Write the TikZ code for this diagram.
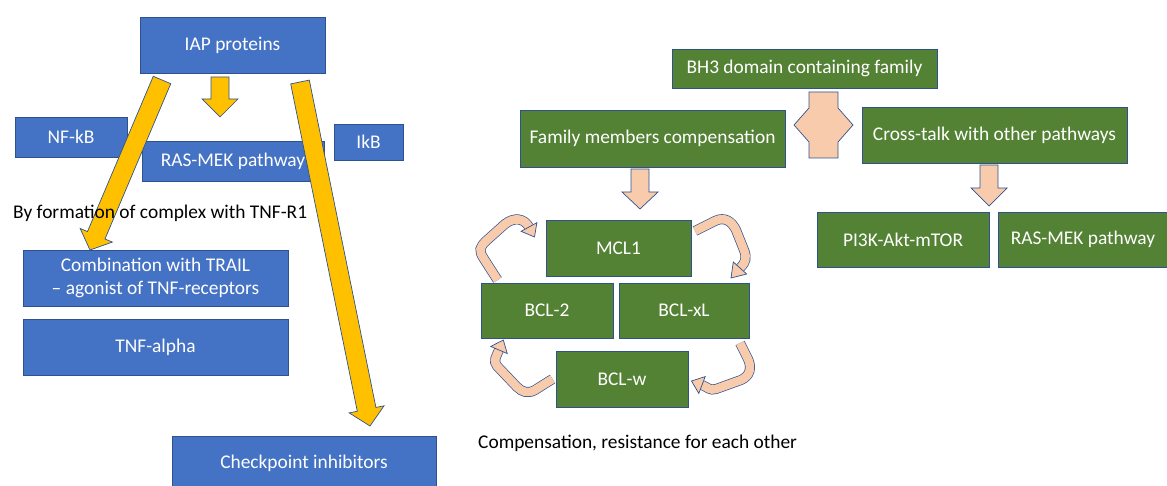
\documentclass[tikz,border=0pt]{standalone}
\usepackage{fontspec}
\setmainfont{Carlito}
\usetikzlibrary{calc}
\definecolor{bfill}{HTML}{4472C4}
\definecolor{edge}{HTML}{2F528F}
\definecolor{gfill}{HTML}{548235}
\definecolor{yfill}{HTML}{FFC000}
\definecolor{pfill}{HTML}{F8CBAD}
\newcommand\blockarr[6]{%
  \coordinate (ba-h) at ($(#3)!#6!(#2)$);
  \filldraw[#1] ($(#2)!#4!90:(#3)$) -- ($(ba-h)!#4!90:(#3)$) -- ($(ba-h)!#5!90:(#3)$) -- (#3)
    -- ($(ba-h)!#5!-90:(#3)$) -- ($(ba-h)!#4!-90:(#3)$) -- ($(#2)!#4!-90:(#3)$) -- cycle;}
\newcommand\headtri[4]{%
  \filldraw[#1] ($(#2)!#4!90:(#3)$) -- (#3) -- ($(#2)!#4!-90:(#3)$) -- cycle;}
\tikzset{
  txt/.style={font=\fontsize{19.4}{23.3}\selectfont},
  bbox/.style={txt, draw=edge, fill=bfill, text=white, line width=0.8pt, inner sep=0pt, align=center},
  gbox/.style={bbox, fill=gfill},
  lbl/.style={txt, text=black, inner sep=0pt, anchor=west},
  yarr/.style={fill=yfill, draw=edge, line width=0.7pt, line join=miter},
  parr/.style={fill=pfill, draw=edge, line width=0.7pt, line join=miter},
  band/.style={draw=edge, double=pfill, double distance=8.6pt, line width=0.7pt},
}
\begin{document}
\begin{tikzpicture}[x=1pt, y=-1pt]
\useasboundingbox (0,0) rectangle (1167,486);
% blue boxes
\node[bbox, minimum width=185pt, minimum height=56pt] (iap) at (232.5,45) {IAP proteins};
\node[bbox, minimum width=112pt, minimum height=40pt] (nfkb) at (71,137) {NF-kB};
\node[bbox, minimum width=182pt, minimum height=40pt] (rasb) at (233,161) {RAS-MEK pathway};
\node[bbox, minimum width=69pt, minimum height=36pt] (ikb) at (368.5,142) {IkB};
\node[bbox, minimum width=265pt, minimum height=56pt] (trail) at (155.5,278) {Combination with TRAIL\\ – agonist of TNF-receptors};
\node[bbox, minimum width=265pt, minimum height=56pt] (tnf) at (155.5,347) {TNF-alpha};
\node[bbox, minimum width=264pt, minimum height=54pt] (check) at (304,463) {Checkpoint inhibitors};
% green boxes
\node[gbox, minimum width=265pt, minimum height=39pt] (bh3) at (804.5,68.5) {BH3 domain containing family};
\node[gbox, minimum width=265pt, minimum height=57pt] (fam) at (652.5,138.5) {Family members compensation};
\node[gbox, minimum width=265pt, minimum height=56pt] (cross) at (994.5,135) {Cross-talk with other pathways};
\node[gbox, minimum width=145pt, minimum height=56pt] (mcl) at (618.5,248) {MCL1};
\node[gbox, minimum width=132pt, minimum height=55pt] (bcl2) at (547,310.5) {BCL-2};
\node[gbox, minimum width=130pt, minimum height=55pt] (bclx) at (684,310.5) {BCL-xL};
\node[gbox, minimum width=132pt, minimum height=56pt] (bclw) at (622,379) {BCL-w};
\node[gbox, minimum width=172pt, minimum height=55pt] (pi3k) at (903,239.5) {PI3K-Akt-mTOR};
\node[gbox, minimum width=170pt, minimum height=55pt] (rasg) at (1083,239.5) {RAS-MEK pathway};
% yellow block arrows
\coordinate (ya1s) at (162,80);  \coordinate (ya1e) at (90,250);
\coordinate (ya2s) at (220,77);  \coordinate (ya2e) at (220,117);
\coordinate (ya3s) at (300,82);  \coordinate (ya3e) at (370,426);
\blockarr{yarr}{ya1s}{ya1e}{9.5pt}{17.5pt}{16pt}
\blockarr{yarr}{ya2s}{ya2e}{9pt}{18pt}{18pt}
\blockarr{yarr}{ya3s}{ya3e}{9.5pt}{17.8pt}{17pt}
% peach block arrows
\coordinate (pa1s) at (640,169); \coordinate (pa1e) at (640,209);
\coordinate (pa2s) at (989,165); \coordinate (pa2e) at (989,206);
\blockarr{parr}{pa1s}{pa1e}{9pt}{18pt}{17pt}
\blockarr{parr}{pa2s}{pa2e}{9pt}{18pt}{18pt}
% left-right arrow between family and cross-talk
\filldraw[parr] (809,92) -- (838,92) -- (838,108) -- (853,125) -- (838,142) -- (838,158)
  -- (809,158) -- (809,142) -- (794,125) -- (809,108) -- cycle;
% curved arrows
\draw[band] (497.5,280) -- (484,259) .. controls (478,250) and (480,247) .. (486,241) -- (505,224) .. controls (514,217) and (524,218) .. (529,227);
\coordinate (c1b) at (529,227); \coordinate (c1t) at (534.5,237);
\headtri{parr}{c1b}{c1t}{9pt}
\draw[band] (695,231) -- (715,221) .. controls (725,216) and (732,222) .. (736,230) -- (744,250) .. controls (747,258) and (746,262) .. (740,268);
\coordinate (c2b) at (740,268); \coordinate (c2t) at (731,278);
\headtri{parr}{c2b}{c2t}{9pt}
\draw[band] (740,343) -- (748,359) .. controls (752,368) and (750,376) .. (741,380) -- (716,389) .. controls (710,391) and (707,387) .. (702,385);
\coordinate (c3b) at (702,385); \coordinate (c3t) at (691.5,381);
\headtri{parr}{c3b}{c3t}{9pt}
\draw[band] (552.5,379) -- (535,390) .. controls (528,394) and (522,392) .. (517,387) -- (497,366) .. controls (493,361) and (496,357) .. (499,350);
\coordinate (c4b) at (499,350); \coordinate (c4t) at (503.3,340);
\headtri{parr}{c4b}{c4t}{9pt}
% free texts
\node[lbl] (byform) at (13,213) {By formation of complex with TNF-R1};
\node[lbl] (comp) at (478,443) {Compensation, resistance for each other};
\end{tikzpicture}
\end{document}
